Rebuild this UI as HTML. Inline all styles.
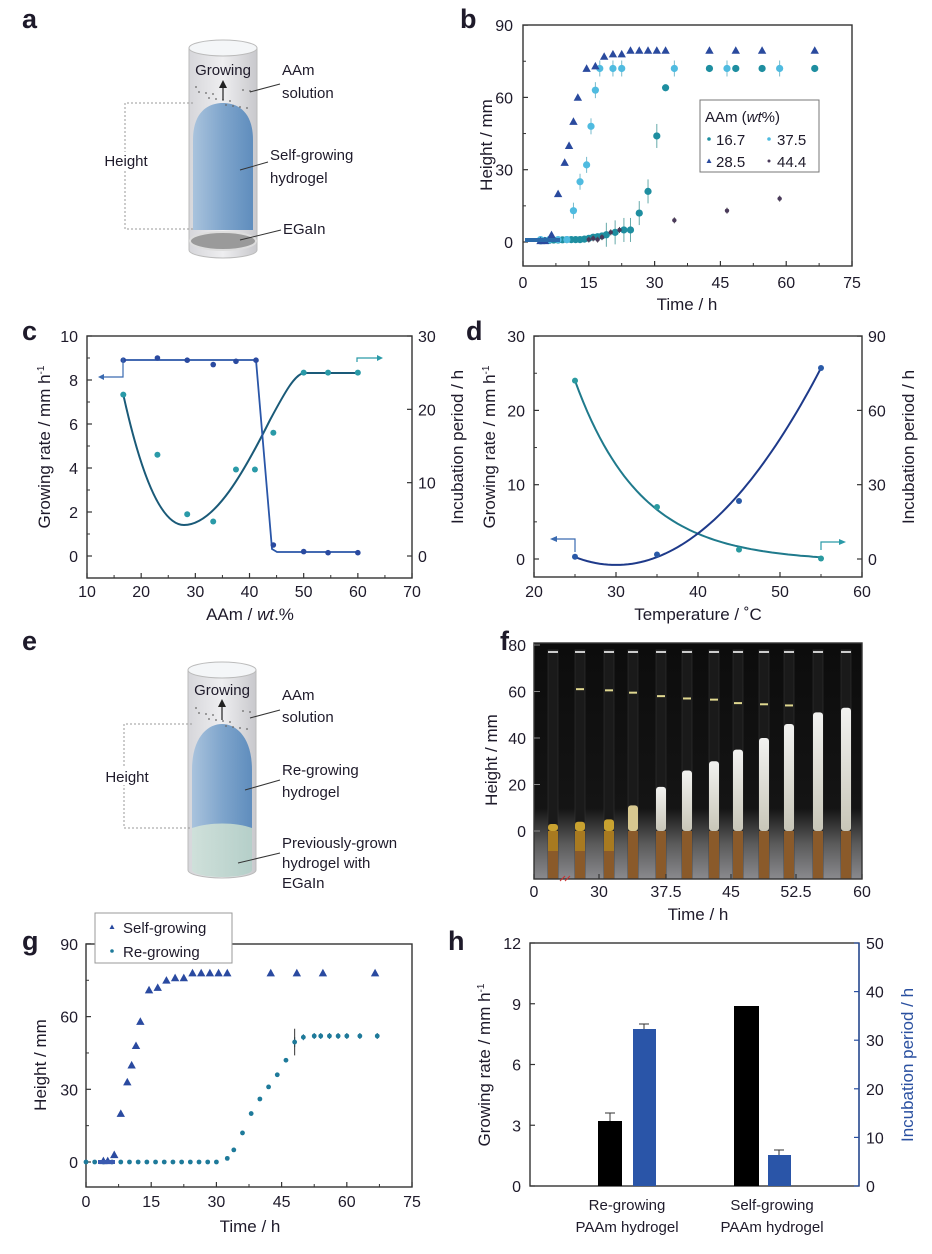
<!DOCTYPE html>
<html><head><meta charset="utf-8"><style>
html,body{margin:0;padding:0;background:#fff;}
svg{display:block;font-family:"Liberation Sans",Arial,sans-serif;}
</style></head><body>
<svg id="s" width="932" height="1254" viewBox="0 0 932 1254" xmlns="http://www.w3.org/2000/svg">
<defs>
<linearGradient id="cyl" x1="0" x2="1" y1="0" y2="0"><stop offset="0" stop-color="#d6d6da"/><stop offset="0.5" stop-color="#eeeef0"/><stop offset="1" stop-color="#c8c8cc"/></linearGradient>
<linearGradient id="gel" x1="0" x2="1" y1="0" y2="0"><stop offset="0" stop-color="#a9c3dd"/><stop offset="0.5" stop-color="#7fa5cc"/><stop offset="1" stop-color="#5f8dbd"/></linearGradient>
<linearGradient id="old" x1="0" x2="1"><stop offset="0" stop-color="#cfe0da"/><stop offset="1" stop-color="#b5cfc9"/></linearGradient>
<linearGradient id="bg" x1="0" x2="0" y1="0" y2="1"><stop offset="0" stop-color="#0c0c0c"/><stop offset="0.7" stop-color="#141414"/><stop offset="0.85" stop-color="#5a5a5a"/><stop offset="1" stop-color="#8a8a8e"/></linearGradient>
<linearGradient id="wgel" x1="0" x2="0" y1="0" y2="1"><stop offset="0" stop-color="#f2f2f0"/><stop offset="1" stop-color="#c8c6b8"/></linearGradient>
</defs>
<g id="root"></g>
</svg>
<script>
var o='';
function T(x,y,t,sz,anc,extra){o+='<text x="'+x+'" y="'+y+'" font-size="'+(sz||16)+'" text-anchor="'+(anc||'middle')+'" fill="#1e1a2a" '+(extra||'')+'>'+t+'</text>';}
function L(x1,y1,x2,y2,c,w,extra){o+='<line x1="'+x1+'" y1="'+y1+'" x2="'+x2+'" y2="'+y2+'" stroke="'+(c||'#333')+'" stroke-width="'+(w||1.3)+'" '+(extra||'')+'/>';}
function P(d,c,w,f,extra){o+='<path d="'+d+'" stroke="'+(c||'none')+'" stroke-width="'+(w||1.5)+'" fill="'+(f||'none')+'" '+(extra||'')+'/>';}
function tri(x,y,c,s){s=s||4;o+='<path d="M'+x+','+(y-s)+' L'+(x+s)+','+(y+s*0.8)+' L'+(x-s)+','+(y+s*0.8)+'Z" fill="'+c+'"/>';}
function dot(x,y,c,r){o+='<circle cx="'+x+'" cy="'+y+'" r="'+(r||3.5)+'" fill="'+c+'"/>';}
function eb(x,y,h,c){L(x,y-h,x,y+h,c||'#555',1);}
function frame(x0,y0,x1,y1,xt,yt,yt2,minX,minY){
 o+='<rect x="'+x0+'" y="'+y0+'" width="'+(x1-x0)+'" height="'+(y1-y0)+'" fill="none" stroke="#333" stroke-width="1.4"/>';
 xt.forEach(function(p){L(p,y1,p,y1-5,'#333',1.2);});
 (minX||[]).forEach(function(p){L(p,y1,p,y1-3,'#333',1);});
 yt.forEach(function(p){L(x0,p,x0+5,p,'#333',1.2);});
 (minY||[]).forEach(function(p){L(x0,p,x0+3,p,'#333',1);});
 (yt2||[]).forEach(function(p){L(x1,p,x1-5,p,'#333',1.2);});
}
function ytitle(x,y,t,sz,col){o+='<text x="'+x+'" y="'+y+'" font-size="'+(sz||17)+'" text-anchor="middle" fill="'+(col||'#1e1a2a')+'" transform="rotate(-90 '+x+' '+y+')">'+t+'</text>';}

[['a',22,28],['b',460,28],['c',22,340],['d',466,340],['e',22,650],['f',500,650],['g',22,950],['h',448,950]].forEach(function(a){T(a[1],a[2],a[0],27,'start','font-weight="bold" fill="#111"');});

function cyl(x0,x1,ytop,ybot){
 P('M'+x0+','+ytop+' L'+x0+','+ybot+' A'+((x1-x0)/2)+',8 0 0 0 '+x1+','+ybot+' L'+x1+','+ytop+'Z','#bbb',1,'url(#cyl)');
}
cyl(189,257,48,250);
P('M193,230 L193,140 C193,110 210,103 223,103 C236,103 253,110 253,140 L253,230Z','none',1,'url(#gel)');
o+='<ellipse cx="223" cy="241" rx="33" ry="9" fill="#9a9a9a" stroke="#ddd" stroke-width="2"/>';
o+='<ellipse cx="223" cy="48" rx="34" ry="8" fill="#f4f6f8" stroke="#bbb"/>';
for(var i=0;i<14;i++){dot(196+((i*17)%58),87+((i*7)%22),'#666',0.9);}
P('M223,100 L223,84','#222',1.2);P('M219,88 L223,80 L227,88Z','none',1,'#222');
T(223,75,'Growing',15,'middle');
T(282,75,'AAm',15,'start');T(282,98,'solution',15,'start');
L(250,92,280,84,'#333',1);
T(270,160,'Self-growing',15,'start');T(270,183,'hydrogel',15,'start');
L(240,170,268,162,'#333',1);
T(283,234,'EGaIn',15,'start');L(240,240,281,230,'#333',1);
P('M193,103 L125,103 L125,229 L193,229','#999',1,'none','stroke-dasharray="2,2"');
T(126,166,'Height',15,'middle','style="paint-order:stroke" stroke="#fff" stroke-width="6"');

var bx=function(t){return 523+t*4.387;}, by=function(v){return 242-v*2.41;};
frame(523,25,852,266,[0,15,30,45,60,75].map(bx),[0,30,60,90].map(by),null,[7.5,22.5,37.5,52.5,67.5].map(bx),[15,45,75].map(by));
[0,15,30,45,60,75].forEach(function(v){T(bx(v),288,v,16);});
[0,30,60,90].forEach(function(v){T(513,by(v)+6,v,16,'end');});
T(687,310,'Time / h',17);ytitle(492,145,'Height / mm',17);
var c16='#1e8ea0',c28='#2a4a9e',c37='#4fbbe0',c44='#4a3a5a';
[[4,0.5],[5,0.6],[6,0.7],[7,0.8],[8,0.8],[9,0.9],[10,1],[11,1],[12,1],[13,1],[14,1.2],[15,1.5],[16,2],[17,2.2],[18,2.5],[19,3],[21,4],[23,5],[24.5,5],[26.5,12],[28.5,21],[30.5,44],[32.5,64],[42.5,72],[48.5,72],[54.5,72],[66.5,72]].forEach(function(p){if(p[0]>18&&p[0]<31)eb(bx(p[0]),by(p[1]),12,'#6aa');dot(bx(p[0]),by(p[1]),c16,3.6);});
[[4,1],[6,1],[8,1],[10,1],[11.5,13],[13,25],[14.5,32],[15.5,48],[16.5,63],[17.5,72],[20.5,72],[22.5,72],[34.5,72],[46.5,72],[58.5,72]].forEach(function(p){if(p[0]>10)eb(bx(p[0]),by(p[1]),8,'#7bc');dot(bx(p[0]),by(p[1]),c37,3.6);});
[[15,1],[16,1.5],[17,1],[18,2],[20,4],[22,5],[34.5,9],[46.5,13],[58.5,18]].forEach(function(p){eb(bx(p[0]),by(p[1]),3,'#555');dot(bx(p[0]),by(p[1]),c44,2.2);});
[[4,0.5],[5,0.5],[6.5,3],[8,20],[9.5,33],[10.5,40],[11.5,50],[12.5,60],[14.5,72],[16.5,73],[18.5,77],[20.5,78],[22.5,78],[24.5,79.5],[26.5,79.5],[28.5,79.5],[30.5,79.5],[32.5,79.5],[42.5,79.5],[48.5,79.5],[54.5,79.5],[66.5,79.5]].forEach(function(p){tri(bx(p[0]),by(p[1]),c28,4.2);});
P('M525,240 L560,240','#2a6aaa',4);
o+='<rect x="700" y="100" width="119" height="72" fill="#fff" stroke="#777" stroke-width="1"/>';
T(705,122,'AAm (<tspan font-style="italic">wt</tspan>%)',15,'start');
dot(709,139,c16,1.8);T(716,145,'16.7',15,'start','fill="'+c16+'"');
dot(769,139,c37,1.8);T(777,145,'37.5',15,'start','fill="'+c37+'"');
tri(709,161,c28,2.5);T(716,167,'28.5',15,'start','fill="'+c28+'"');
dot(769,161,c44,1.5);T(777,167,'44.4',15,'start','fill="#555"');

var cx=function(u){return 87+(u-10)*5.417;}, cy=function(v){return 556-v*22;}, cr=function(v){return 556-v*7.333;};
frame(87,336,412,578,[10,20,30,40,50,60,70].map(cx),[0,2,4,6,8,10].map(cy),[0,10,20,30].map(cr),[15,25,35,45,55,65].map(cx),[1,3,5,7,9].map(cy));
[10,20,30,40,50,60,70].forEach(function(v){T(cx(v),597,v,16);});
[0,2,4,6,8,10].forEach(function(v){T(78,cy(v)+6,v,16,'end');});
[0,10,20,30].forEach(function(v){T(418,cr(v)+6,v,16,'start');});
T(250,620,'AAm / <tspan font-style="italic">wt</tspan>.%',17);
ytitle(50,447,'Growing rate / mm h<tspan dy="-6" font-size="10">-1</tspan>',17);
ytitle(463,447,'Incubation period / h',17);
P('M'+cx(16.7)+','+cr(22)+' C140,470 160,525 184,525 C215,525 245,470 270,420 C285,392 295,374 304,373 L358,373','#1a5a78',2);
P('M123,360 L256,360 L272,549 L277,552 L358,552','#2a56a8',1.8);
[[16.7,8.9],[23,9],[28.5,8.9],[33.3,8.7],[37.5,8.85],[41.2,8.9],[44.4,0.5],[50,0.2],[54.5,0.15],[60,0.15]].forEach(function(p){dot(cx(p[0]),cy(p[1]),'#2a4aa0',2.8);});
[[16.7,22],[23,13.8],[28.5,5.7],[33.3,4.7],[37.5,11.8],[41,11.8],[44.4,16.8],[50,25],[54.5,25],[60,25]].forEach(function(p){dot(cx(p[0]),cr(p[1]),'#2a9aa8',3);});
P('M123,358 L123,377 L103,377','#3a6ab0',1.2);P('M98,377 L104,374 L104,380Z','none',1,'#3a6ab0');
P('M357,362 L357,358 L378,358','#2a9aa8',1.2);P('M383,358 L377,355 L377,361Z','none',1,'#2a9aa8');

var dx=function(u){return 534+(u-20)*8.2;}, dy=function(v){return 559-v*7.43;}, dr=function(v){return 559-v*2.477;};
frame(534,336,862,577,[20,30,40,50,60].map(dx),[0,10,20,30].map(dy),[0,30,60,90].map(dr),[25,35,45,55].map(dx),[5,15,25].map(dy));
[20,30,40,50,60].forEach(function(v){T(dx(v),597,v,16);});
[0,10,20,30].forEach(function(v){T(525,dy(v)+6,v,16,'end');});
[0,30,60,90].forEach(function(v){T(868,dr(v)+6,v,16,'start');});
T(698,620,'Temperature / ˚C',17);
ytitle(495,447,'Growing rate / mm h<tspan dy="-6" font-size="10">-1</tspan>',17);
ytitle(914,447,'Incubation period / h',17);
var s1='',s2='';
for(var u=25;u<=55.01;u+=0.5){var v=0.0424*(u-30)*(u-30)-0.8;s1+=(s1?'L':'M')+dx(u).toFixed(1)+','+dy(v).toFixed(1);var w=73*Math.exp(-0.125*(u-25))-1;s2+=(s2?'L':'M')+dx(u).toFixed(1)+','+dr(w).toFixed(1);}
P(s2,'#1f7a8c',2);P(s1,'#1e3a8a',2);
[[25,0.3],[35,0.6],[45,7.8],[55,25.7]].forEach(function(p){dot(dx(p[0]),dy(p[1]),'#2a5aa8',3);});
[[25,72],[35,21],[45,3.8],[55,0.2]].forEach(function(p){dot(dx(p[0]),dr(p[1]),'#2a9aa0',3);});
P('M575,552 L575,539 L556,539','#3a6ab0',1.2);P('M550,539 L557,536 L557,542Z','none',1,'#3a6ab0');
P('M821,550 L821,542 L840,542','#2a9aa8',1.2);P('M846,542 L839,539 L839,545Z','none',1,'#2a9aa8');

cyl(188,256,670,870);
P('M192,828 L192,770 C192,737 208,724 222,724 C236,724 252,737 252,770 L252,828Z','none',1,'url(#gel)');
P('M192,828 C210,822 235,822 252,828 L252,870 A30,7 0 0 1 192,870Z','none',1,'url(#old)');
o+='<ellipse cx="222" cy="670" rx="34" ry="8" fill="#f4f6f8" stroke="#bbb"/>';
for(var i=0;i<14;i++){dot(196+((i*17)%58),708+((i*7)%22),'#666',0.9);}
P('M222,720 L222,703','#222',1.2);P('M218,707 L222,699 L226,707Z','none',1,'#222');
T(222,695,'Growing',15);
T(282,700,'AAm',15,'start');T(282,722,'solution',15,'start');L(250,718,280,710,'#333',1);
T(282,775,'Re-growing',15,'start');T(282,797,'hydrogel',15,'start');L(245,790,280,780,'#333',1);
T(282,848,'Previously-grown',15,'start');T(282,868,'hydrogel with',15,'start');T(282,888,'EGaIn',15,'start');L(238,863,280,853,'#333',1);
P('M192,724 L124,724 L124,828 L192,828','#999',1,'none','stroke-dasharray="2,2"');
T(127,782,'Height',15,'middle','style="paint-order:stroke" stroke="#fff" stroke-width="6"');

o+='<rect x="534" y="643" width="328" height="236" fill="url(#bg)"/>';
var fy=function(v){return 831-v*2.325;};
var cs=[553,580,609,633,661,687,714,738,764,789,818,846], hs=[3,4,5,11,19,26,30,35,40,46,51,53], men=[null,61,60.5,59.5,58,57,56.5,55,54.5,54,null,null];
cs.forEach(function(c,i){
 o+='<rect x="'+(c-5)+'" y="650" width="10" height="229" fill="#1a1a1a" stroke="#333" stroke-width="0.6"/>';
 o+='<rect x="'+(c-5)+'" y="'+fy(0)+'" width="10" height="'+(879-fy(0))+'" fill="#8a5a2a"/>';
 var top=fy(hs[i]);
 o+='<rect x="'+(c-5)+'" y="'+top+'" width="10" height="'+(fy(0)-top)+'" rx="3" fill="'+(i<3?'#c9a230':(i==3?'#d8c890':'url(#wgel)'))+'"/>';
 if(i<3)o+='<rect x="'+(c-5)+'" y="'+fy(0)+'" width="10" height="20" fill="#a87a20"/>';
 L(c-5,652,c+5,652,'#ccc',2);
 if(men[i])L(c-4,fy(men[i]),c+4,fy(men[i]),'#e0d890',2);
});
o+='<rect x="534" y="643" width="328" height="236" fill="none" stroke="#333" stroke-width="1.4"/>';
var fxs=[534,599,666,731,796,862];
fxs.forEach(function(p){L(p,879,p,874,'#333',1.2);});
['0','30','37.5','45','52.5','60'].forEach(function(t,i){T(fxs[i],897,t,16);});
[0,20,40,60,80].forEach(function(v){T(526,fy(v)+6,v,16,'end');L(534,fy(v),540,fy(v),'#888',1);});
P('M560,881 L565,876 M565,881 L570,876','#c33',1);
T(698,920,'Time / h',17);ytitle(497,760,'Height / mm',17);

var gx=function(t){return 86+t*4.347;}, gy=function(v){return 1162-v*2.423;};
frame(86,944,412,1187,[0,15,30,45,60,75].map(gx),[0,30,60,90].map(gy),null,[7.5,22.5,37.5,52.5,67.5].map(gx),[15,45,75].map(gy));
[0,15,30,45,60,75].forEach(function(v){T(gx(v),1207,v,16);});
[0,30,60,90].forEach(function(v){T(78,gy(v)+6,v,16,'end');});
T(250,1232,'Time / h',17);ytitle(46,1065,'Height / mm',17);
var rg=[];for(var t=0;t<=30;t+=2)rg.push([t,0]);
rg=rg.concat([[32.5,1.5],[34,5],[36,12],[38,20],[40,26],[42,31],[44,36],[46,42],[48,49.5],[50,51.5],[52.5,52],[54,52],[56,52],[58,52],[60,52],[63,52],[67,52]]);
rg.forEach(function(p){if(p[0]>=48)eb(gx(p[0]),gy(p[1]),p[0]<49?5:3,'#2a6a8a');if(p[0]==48)L(gx(48),gy(55),gx(48),gy(44),'#333',1);dot(gx(p[0]),gy(p[1]),'#1e7a9a',2.4);});
[[4,0.5],[5,0.5],[6.5,3],[8,20],[9.5,33],[10.5,40],[11.5,48],[12.5,58],[14.5,71],[16.5,72],[18.5,75],[20.5,76],[22.5,76],[24.5,78],[26.5,78],[28.5,78],[30.5,78],[32.5,78],[42.5,78],[48.5,78],[54.5,78],[66.5,78]].forEach(function(p){tri(gx(p[0]),gy(p[1]),'#2a4aa0',4.2);});
P('M98,1162 L115,1162','#3a5ab0',4);
o+='<rect x="95" y="913" width="137" height="50" fill="#fff" stroke="#999" stroke-width="1"/>';
tri(112,927,'#2a4aa0',2.5);T(123,933,'Self-growing',15,'start','fill="#3a4aa0"');
dot(112,951,'#1e7a9a',1.8);T(123,957,'Re-growing',15,'start','fill="#2a8aa0"');

var hy=function(v){return 1186-v*20.25;}, hr=function(v){return 1186-v*4.86;};
o+='<rect x="530" y="943" width="329" height="243" fill="none" stroke="#333" stroke-width="1.4"/>';
[0,3,6,9,12].forEach(function(v){T(521,hy(v)+6,v,16,'end');L(530,hy(v),535,hy(v),'#333',1.2);});
[0,10,20,30,40,50].forEach(function(v){T(866,hr(v)+6,v,16,'start','fill="#2a50a0"');L(859,hr(v),854,hr(v),'#2a50a0',1.2);});
L(859,943,859,1186,'#2a50a0',1.4);
o+='<rect x="598" y="1121" width="24" height="65" fill="#000"/>';L(610,1121,610,1113,'#333',1);L(605,1113,615,1113,'#333',1);
o+='<rect x="633" y="1029" width="23" height="157" fill="#2a55a8"/>';L(644,1029,644,1024,'#333',1);L(639,1024,649,1024,'#333',1);
o+='<rect x="734" y="1006" width="25" height="180" fill="#000"/>';
o+='<rect x="768" y="1155" width="23" height="31" fill="#2a55a8"/>';L(779,1155,779,1150,'#333',1);L(774,1150,784,1150,'#333',1);
T(627,1210,'Re-growing',15);T(627,1232,'PAAm hydrogel',15);
T(772,1210,'Self-growing',15);T(772,1232,'PAAm hydrogel',15);
ytitle(490,1065,'Growing rate / mm h<tspan dy="-6" font-size="10">-1</tspan>',17);
ytitle(913,1065,'Incubation period / h',17,'#2a50a0');

document.getElementById('root').innerHTML=o;
</script>
</body></html>
